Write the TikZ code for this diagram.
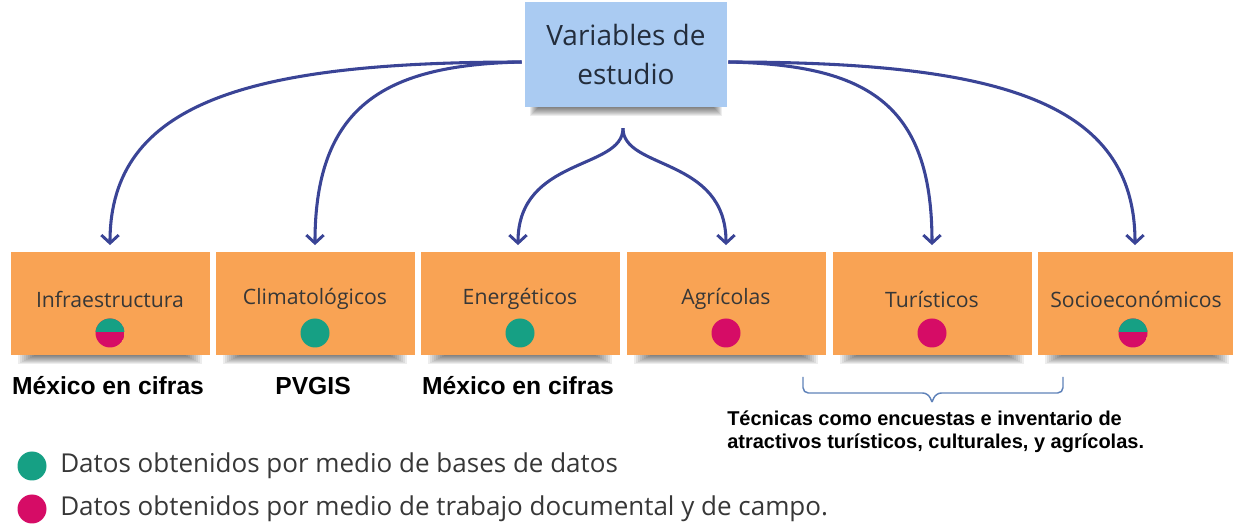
\documentclass[tikz,border=0pt]{standalone}
\usepackage{fontspec}
\setmainfont{Open Sans}
\newfontfamily\arialf{Liberation Sans}
\usetikzlibrary{arrows.meta,calc}
\definecolor{orng}{RGB}{249,163,84}
\definecolor{lblue}{RGB}{170,203,242}
\definecolor{arrowblue}{RGB}{58,68,150}
\definecolor{bracecol}{RGB}{95,130,185}
\definecolor{dotgreen}{RGB}{22,160,132}
\definecolor{dotpink}{RGB}{214,12,102}
\definecolor{txtgray}{RGB}{55,55,55}
\definecolor{toptxt}{RGB}{35,45,60}
\begin{document}
\begin{tikzpicture}[x=0.75pt,y=-0.75pt,
  shadowlayer/.style={fill=black,opacity=0.07},
  catbox/.style={fill=orng,draw=none,minimum width=149.25pt,minimum height=77.25pt,inner sep=0pt},
  topbox/.style={fill=lblue,draw=none,minimum width=151.5pt,minimum height=78.75pt,inner sep=0pt,
    align=center,font=\fontsize{21}{29}\selectfont,text=toptxt},
  catlabel/.style={font=\fontsize{15.9}{19}\selectfont,text=txtgray,inner sep=0pt},
  src/.style={font=\arialf\bfseries\fontsize{18.5}{22}\selectfont,inner sep=0pt},
  legtext/.style={font=\fontsize{19.5}{23}\selectfont,text=txtgray,anchor=west,inner sep=0pt},
  arr/.style={draw=arrowblue,line width=2.3pt,-{Straight Barb[length=6pt,width=13pt,line width=2.2pt]},shorten >=5pt}
]
\useasboundingbox (0,0) rectangle (1233,527);

% top box
\node[topbox] (top) at (626,54.5) {Variables de\\estudio};
\foreach \i in {1,...,9}{
  \fill[shadowlayer] ($(top.south west)+(4+\i,0)$) rectangle ($(top.south east)+(-4-\i,10-\i)$);
}

% category boxes
\node[catbox] (b1) at (110,303.5) {};
\node[catbox] (b2) at (315,303.5) {};
\node[catbox] (b3) at (520,303.5) {};
\node[catbox] (b4) at (726,303.5) {};
\node[catbox] (b5) at (932,303.5) {};
\node[catbox] (b6) at (1137,303.5) {};
\foreach \b in {b1,b2,b3,b4,b5,b6}{
  \foreach \i in {1,...,9}{
    \fill[shadowlayer] ($(\b.south west)+(6+2*\i,0)$) rectangle ($(\b.south east)+(-6-2*\i,10-\i)$);
  }
}

\node[catlabel] (l1) at ($(b1.center)+(0,-4.5)$) {Infraestructura};
\node[catlabel] (l2) at ($(b2.center)+(0,-4.5)$) {Climatológicos};
\node[catlabel] (l3) at ($(b3.center)+(0,-4.5)$) {Energéticos};
\node[catlabel] (l4) at ($(b4.center)+(0,-4.5)$) {Agrícolas};
\node[catlabel] (l5) at ($(b5.center)+(0,-4.5)$) {Turísticos};
\node[catlabel] (l6) at ($(b6.center)+(-1,-4.5)$) {Socioeconómicos};

% dots
\coordinate (d1) at ($(b1.center)+(0,29.5)$);
\coordinate (d2) at ($(b2.center)+(0,29.5)$);
\coordinate (d3) at ($(b3.center)+(0,29.5)$);
\coordinate (d4) at ($(b4.center)+(0,29.5)$);
\coordinate (d5) at ($(b5.center)+(0,29.5)$);
\coordinate (d6) at ($(b6.center)+(-4,29.5)$);
\begin{scope}
  \clip (d1) circle (14.5);
  \fill[dotpink] (d1) circle (14.5);
  \fill[dotgreen] ($(d1)+(-16,-16)$) rectangle ($(d1)+(16,-1)$);
\end{scope}
\begin{scope}
  \clip (d6) circle (14.5);
  \fill[dotpink] (d6) circle (14.5);
  \fill[dotgreen] ($(d6)+(-16,-16)$) rectangle ($(d6)+(16,-1)$);
\end{scope}
\fill[dotgreen] (d2) circle (14.5);
\fill[dotgreen] (d3) circle (14.5);
\fill[dotpink] (d4) circle (14.5);
\fill[dotpink] (d5) circle (14.5);

% arrows
\coordinate (tl) at ($(top.west)+(-3,7.5)$);
\coordinate (tr) at ($(top.east)+(1,7.5)$);
\coordinate (split) at ($(top.south)+(-3,21)$);
\draw[arr] (tl) .. controls (250,62) and ($(b1.north)+(0,-150)$) .. (b1.north);
\draw[arr] (tl) .. controls (390,65) and ($(b2.north)+(0,-150)$) .. (b2.north);
\draw[arr] (split) .. controls (623,170) and ($(b3.north)+(-2,-95)$) .. ([xshift=-1.5pt]b3.north);
\draw[arr] (split) .. controls (623,170) and ($(b4.north)+(0,-95)$) .. (b4.north);
\draw[arr] (tr) .. controls (865,65) and ($(b5.north)+(0,-150)$) .. (b5.north);
\draw[arr] (tr) .. controls (1000,62) and ($(b6.north)+(-2,-150)$) .. ([xshift=-1.5pt]b6.north);

% source labels
\node[src] (s1) at (108,386) {México en cifras};
\node[src] (s2) at (313,386) {PVGIS};
\node[src] (s3) at (518,386) {México en cifras};

% brace
\coordinate (brL) at (803,377);
\coordinate (brR) at (1063,377);
\coordinate (brT) at (932,402);
\draw[bracecol,line width=1.1pt,rounded corners=4pt]
  (brL) -- ($(brL)+(0,16)$) -- ($(brT)+(-4,-9)$) -- (brT);
\draw[bracecol,line width=1.1pt,rounded corners=4pt]
  (brR) -- ($(brR)+(0,16)$) -- ($(brT)+(4,-9)$) -- (brT);

\node[font=\arialf\bfseries\fontsize{15}{17}\selectfont,align=left,anchor=north west,inner sep=0pt] (tec) at (727,411)
  {Técnicas como encuestas e inventario de\\atractivos turísticos, culturales, y agrícolas.};

% legend
\coordinate (lg1) at (32,466);
\coordinate (lg2) at (32,509);
\fill[dotgreen] (lg1) circle (14.5);
\fill[dotpink] (lg2) circle (14.5);
\node[legtext] (t1) at (60,466) {Datos obtenidos por medio de bases de datos};
\node[legtext] (t2) at (60,509) {Datos obtenidos por medio de trabajo documental y de campo.};
\end{tikzpicture}
\end{document}
